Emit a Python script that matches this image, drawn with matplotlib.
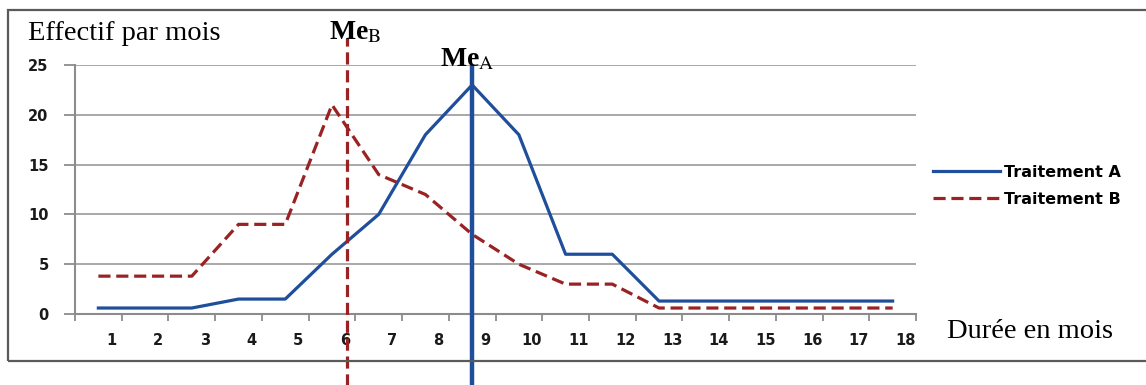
import matplotlib
matplotlib.use("Agg")
import matplotlib.pyplot as plt
import matplotlib.transforms as mtransforms
from matplotlib.patches import Rectangle

# Données
mois = list(range(1, 19))
traitement_a = [0.6, 0.6, 0.6, 1.5, 1.5, 6, 10, 18, 23, 18, 6, 6, 1.3, 1.3, 1.3, 1.3, 1.3, 1.3]
traitement_b = [3.8, 3.8, 3.8, 9, 9, 21, 14, 12, 8, 5, 3, 3, 0.6, 0.6, 0.6, 0.6, 0.6, 0.6]
mediane_a = 9.0
mediane_b = 6.32
yticks = [0, 5, 10, 15, 20, 25]

blue = "#1F4E9A"
red = "#9B2222"
grey = "#8C8C8C"

plt.rcParams["mathtext.fontset"] = "stix"

fig = plt.figure(figsize=(11.46, 3.85), dpi=100)
ax = fig.add_axes([75 / 1146, 71 / 385, 841 / 1146, 249 / 385])

# cadre extérieur
fig.patches.append(Rectangle((8 / 1146, 24 / 385), 1.2, 351 / 385, transform=fig.transFigure,
                             fill=False, edgecolor="#5A5A5A", linewidth=1.6, zorder=0))

ax.plot(mois, traitement_a, color=blue, linewidth=2.3, label="Traitement A", zorder=3)
ax.plot(mois, traitement_b, color=red, linewidth=2.3, linestyle=(0, (3.8, 1.8)),
        label="Traitement B", zorder=3)

# médianes
trans = mtransforms.blended_transform_factory(ax.transData, ax.transAxes)
ax.plot([mediane_b, mediane_b], [-0.29, 1.11], transform=trans, color=red, linewidth=2.3,
        linestyle=(0, (3.8, 1.8)), clip_on=False, zorder=4)
ax.plot([mediane_a, mediane_a], [-0.29, 0.99], transform=trans, color=blue, linewidth=3.2,
        clip_on=False, zorder=4)

ax.set_xlim(0.5, 18.5)
ax.set_ylim(0, 25)
ax.set_yticks(yticks)
ax.set_xticks(mois)
ax.set_xticklabels([str(m) for m in mois])
ax.set_xticks([m + 0.5 for m in range(0, 19)], minor=True)
ax.tick_params(axis="x", which="major", length=0, pad=14)
ax.tick_params(axis="x", which="minor", length=5, color=grey, width=1.3)
ax.tick_params(axis="y", length=8, color=grey, width=1.3, pad=11)
for lab in ax.get_xticklabels() + ax.get_yticklabels():
    lab.set_fontweight("bold")
    lab.set_fontsize(10.5)
    lab.set_color("#1A1A1A")
offset = mtransforms.ScaledTranslation(0.13, 0, fig.dpi_scale_trans)
for lab in ax.get_xticklabels():
    lab.set_transform(lab.get_transform() + offset)

ax.grid(axis="y", color="#9A9A9A", linewidth=1.2)
ax.set_axisbelow(True)
for side in ["top", "right"]:
    ax.spines[side].set_visible(False)
for side in ["left", "bottom"]:
    ax.spines[side].set_color(grey)
    ax.spines[side].set_linewidth(1.5)

serif = "Liberation Serif"
fig.text(28 / 1146, 1 - 33 / 385, "Effectif par mois", family=serif, fontsize=20.5,
         va="center", ha="left")
fig.text(947 / 1146, 1 - 331 / 385, "Durée en mois", family=serif, fontsize=20.5,
         va="center", ha="left")
fig.text(329 / 1146, 1 - 33 / 385, r"Me$_{\mathrm{B}}$", family=serif, fontsize=20,
         fontweight="bold", va="center", ha="left")
fig.text(440 / 1146, 1 - 60 / 385, r"Me$_{\mathrm{A}}$", family=serif, fontsize=20,
         fontweight="bold", va="center", ha="left")

ax.legend(loc="center left", bbox_to_anchor=(925 / 1146, 1 - 186 / 385),
          bbox_transform=fig.transFigure, frameon=False, handlelength=4.2,
          handletextpad=0.25, labelspacing=0.75, borderpad=0,
          prop={"weight": "bold", "size": 11.5})

fig.savefig("out.png", dpi=100)
